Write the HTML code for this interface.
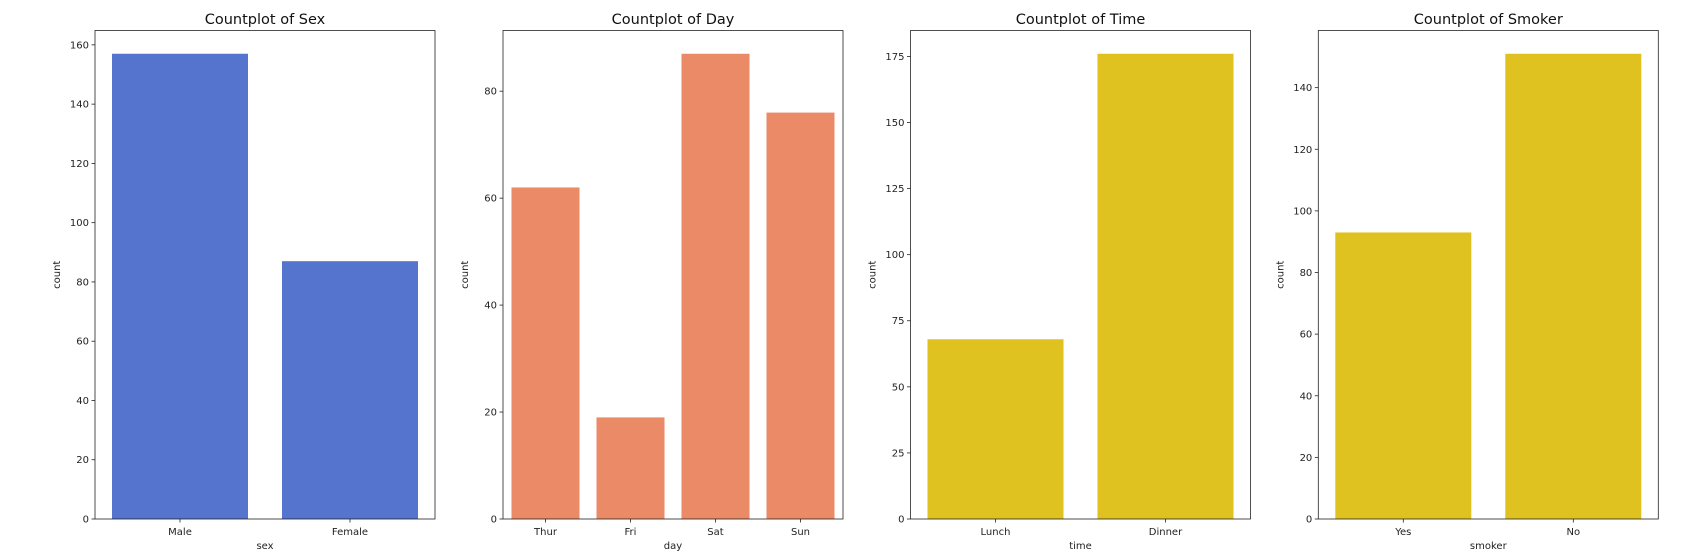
<!DOCTYPE html>
<html><head><meta charset="utf-8"><style>
html,body{margin:0;padding:0;background:#fff;}
svg{display:block;font-family:"DejaVu Sans","Liberation Sans",sans-serif;}
</style></head><body>
<svg id="chart" width="1706" height="559" xmlns="http://www.w3.org/2000/svg"></svg>
<script>
const sexCategories = ["Male","Female"];
const sexCounts = [157,87];
const dayCategories = ["Thur","Fri","Sat","Sun"];
const dayCounts = [62,19,87,76];
const timeCategories = ["Lunch","Dinner"];
const timeCounts = [68,176];
const smokerCategories = ["Yes","No"];
const smokerCounts = [93,151];
const sexTicks = [0,20,40,60,80,100,120,140,160];
const dayTicks = [0,20,40,60,80];
const timeTicks = [0,25,50,75,100,125,150,175];
const smokerTicks = [0,20,40,60,80,100,120,140];

const svgRoot = document.getElementById('chart');
const NS = 'http://www.w3.org/2000/svg';
function mk(tag, attrs, parent){
  const e = document.createElementNS(NS, tag);
  for (const k in attrs) e.setAttribute(k, attrs[k]);
  parent.appendChild(e);
  return e;
}
const panels = [
  {key:'sex', title:'Countplot of Sex', xlabel:'sex', cats:sexCategories, vals:sexCounts, ticks:sexTicks, color:'#5574cd', left:95},
  {key:'day', title:'Countplot of Day', xlabel:'day', cats:dayCategories, vals:dayCounts, ticks:dayTicks, color:'#ea8a66', left:503},
  {key:'time', title:'Countplot of Time', xlabel:'time', cats:timeCategories, vals:timeCounts, ticks:timeTicks, color:'#dfc21f', left:910.5},
  {key:'smoker', title:'Countplot of Smoker', xlabel:'smoker', cats:smokerCategories, vals:smokerCounts, ticks:smokerTicks, color:'#dfc21f', left:1318.3}
];
const plotTop = 30.5, plotBottom = 519, W = 340;
panels.forEach(p => {
  const g = mk('g', {}, svgRoot);
  
  
  const ymax = Math.max(...p.vals) * 1.05;
  const y = v => plotBottom - v / ymax * (plotBottom - plotTop);
  const n = p.cats.length;
  const x = i => p.left + (i + 0.5) / n * W;
  const bw = 0.8 / n * W;
  p.vals.forEach((v, i) => {
    const r = mk('rect', {x: x(i) - bw/2, y: y(v), width: bw, height: plotBottom - y(v), fill: p.color}, g);
    
    
  });
  p.ticks.forEach(t => {
    mk('line', {x1: p.left - 3.5, x2: p.left, y1: y(t), y2: y(t), stroke: '#222', 'stroke-width': 0.8}, g);
    const tx = mk('text', {x: p.left - 6, y: y(t) + 3.5, 'text-anchor': 'end', 'font-size': 10, fill: '#222'}, g);
    tx.textContent = t;
    
    
  });
  p.cats.forEach((c, i) => {
    mk('line', {x1: x(i), x2: x(i), y1: plotBottom, y2: plotBottom + 3.5, stroke: '#222', 'stroke-width': 0.8}, g);
    const tx = mk('text', {x: x(i), y: plotBottom + 16, 'text-anchor': 'middle', 'font-size': 10, fill: '#222'}, g);
    tx.textContent = c;
    
    
  });
  mk('rect', {x: p.left, y: plotTop, width: W, height: plotBottom - plotTop, fill: 'none', stroke: '#222', 'stroke-width': 0.8}, g);
  const ti = mk('text', {x: p.left + W/2, y: 24, 'text-anchor': 'middle', 'font-size': 14.5, fill: '#111'}, g);
  ti.textContent = p.title;
  
  
  const xl = mk('text', {x: p.left + W/2, y: plotBottom + 30, 'text-anchor': 'middle', 'font-size': 10, fill: '#222'}, g);
  xl.textContent = p.xlabel;
  
  
  const yl = mk('text', {x: 0, y: 0, 'text-anchor': 'middle', 'font-size': 10, fill: '#222', transform: 'translate(' + (p.left - 35) + ',' + ((plotTop + plotBottom)/2) + ') rotate(-90)'}, g);
  yl.textContent = 'count';
  
  
});
</script>
</body></html>
